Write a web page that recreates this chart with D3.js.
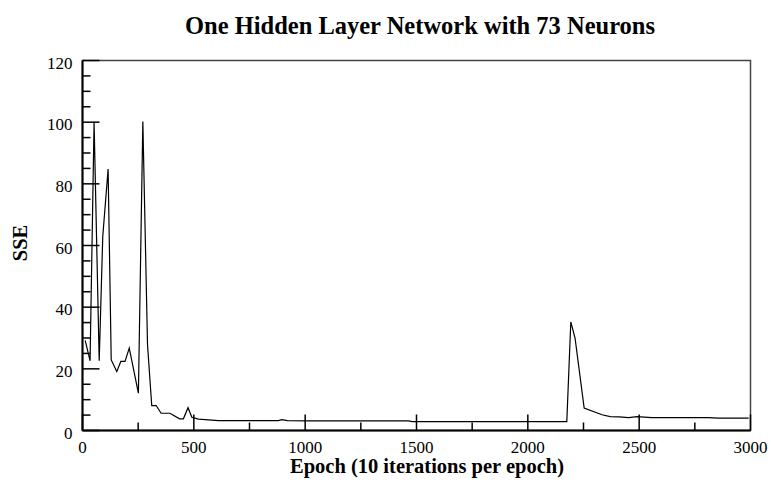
<!DOCTYPE html>
<html><head><meta charset="utf-8">
<script src="https://cdn.jsdelivr.net/npm/d3@7"></script>
<style>body{margin:0;background:#fff}svg{display:block}</style>
</head><body>
<svg id="c" width="771" height="491"></svg>
<script>
const epochs = [12, 34, 52, 75, 91, 115, 129, 154, 172, 191, 210, 251, 271, 292, 311, 331, 353, 393, 436, 453, 474, 491, 521, 611, 880, 895, 920, 1015, 1465, 1480, 2175, 2193, 2212, 2253, 2333, 2370, 2410, 2453, 2490, 2557, 2812, 2857, 2992];
const sse    = [29.2, 22.6, 100, 22.6, 62.9, 84.8, 22.9, 19.1, 22.4, 22.4, 26.7, 12.1, 100.2, 27.8, 8.1, 8.1, 5.6, 5.6, 3.8, 3.8, 7.4, 4.3, 3.7, 3.2, 3.2, 3.5, 3.2, 3.1, 3.1, 2.9, 2.9, 35.2, 30.0, 7.3, 5.1, 4.5, 4.4, 4.2, 4.5, 4.2, 4.2, 4.0, 4.0];
const xTicks = [0, 500, 1000, 1500, 2000, 2500, 3000];
const yTicks = [0, 20, 40, 60, 80, 100, 120];
const titleText = "One Hidden Layer Network with 73 Neurons";
const xTitle = "Epoch (10 iterations per epoch)";
const yTitle = "SSE";

const svg = d3.select("#c");
const L = 82.5, R = 750.5, T = 60.5, B = 430.5;
const x = d3.scaleLinear().domain([0, 3000]).range([L, R]);
const y = d3.scaleLinear().domain([0, 120]).range([B, T]);
const serif = "'Liberation Serif', 'Times New Roman', serif";

// frame
svg.append("rect").attr("x", L).attr("y", T).attr("width", R - L).attr("height", B - T)
  .attr("fill", "none").attr("stroke", "#444").attr("stroke-width", 1.5);

// y axis (inward ticks)
const yMinor = d3.range(0, 121, 5);
svg.append("g").selectAll("line").data(yMinor).join("line")
  .attr("x1", L).attr("x2", d => L + (d % 20 === 0 ? 17 : 8))
  .attr("y1", d => y(d)).attr("y2", d => y(d))
  .attr("stroke", "#000").attr("stroke-width", 1.5);
svg.append("g").selectAll("text").data(yTicks).join("text")
  .attr("x", L - 10).attr("y", d => y(d) + 8)
  .attr("text-anchor", "end").attr("font-family", serif).attr("font-size", 17)
  .text(d => d);

// x axis (inward ticks)
const xMinor = d3.range(0, 3001, 250);
svg.append("g").selectAll("line").data(xMinor).join("line")
  .attr("y1", B).attr("y2", d => B - (d % 500 === 0 ? 16 : 8))
  .attr("x1", d => x(d)).attr("x2", d => x(d))
  .attr("stroke", "#000").attr("stroke-width", 1.5);
svg.append("g").selectAll("text").data(xTicks).join("text")
  .attr("x", d => x(d)).attr("y", B + 22)
  .attr("text-anchor", "middle").attr("font-family", serif).attr("font-size", 17)
  .text(d => d);

// axis lines on left and bottom, darker
svg.append("line").attr("x1", L).attr("x2", L).attr("y1", T).attr("y2", B).attr("stroke", "#000").attr("stroke-width", 2);
svg.append("line").attr("x1", L).attr("x2", R).attr("y1", B).attr("y2", B).attr("stroke", "#000").attr("stroke-width", 2);

// data line
const line = d3.line().x((d, i) => x(epochs[i])).y(d => y(d));
svg.append("path").datum(sse).attr("d", line)
  .attr("fill", "none").attr("stroke", "#000").attr("stroke-width", 1.2).attr("stroke-linejoin", "miter");

// titles
svg.append("text").attr("x", 420).attr("y", 34).attr("text-anchor", "middle")
  .attr("font-family", serif).attr("font-weight", "bold").attr("font-size", 24.5).text(titleText);
svg.append("text").attr("x", 427).attr("y", 473).attr("text-anchor", "middle")
  .attr("font-family", serif).attr("font-weight", "bold").attr("font-size", 20.5).text(xTitle);
svg.append("text").attr("transform", "translate(27,243) rotate(-90)").attr("text-anchor", "middle")
  .attr("font-family", serif).attr("font-weight", "bold").attr("font-size", 20.5).text(yTitle);
</script>
</body></html>
